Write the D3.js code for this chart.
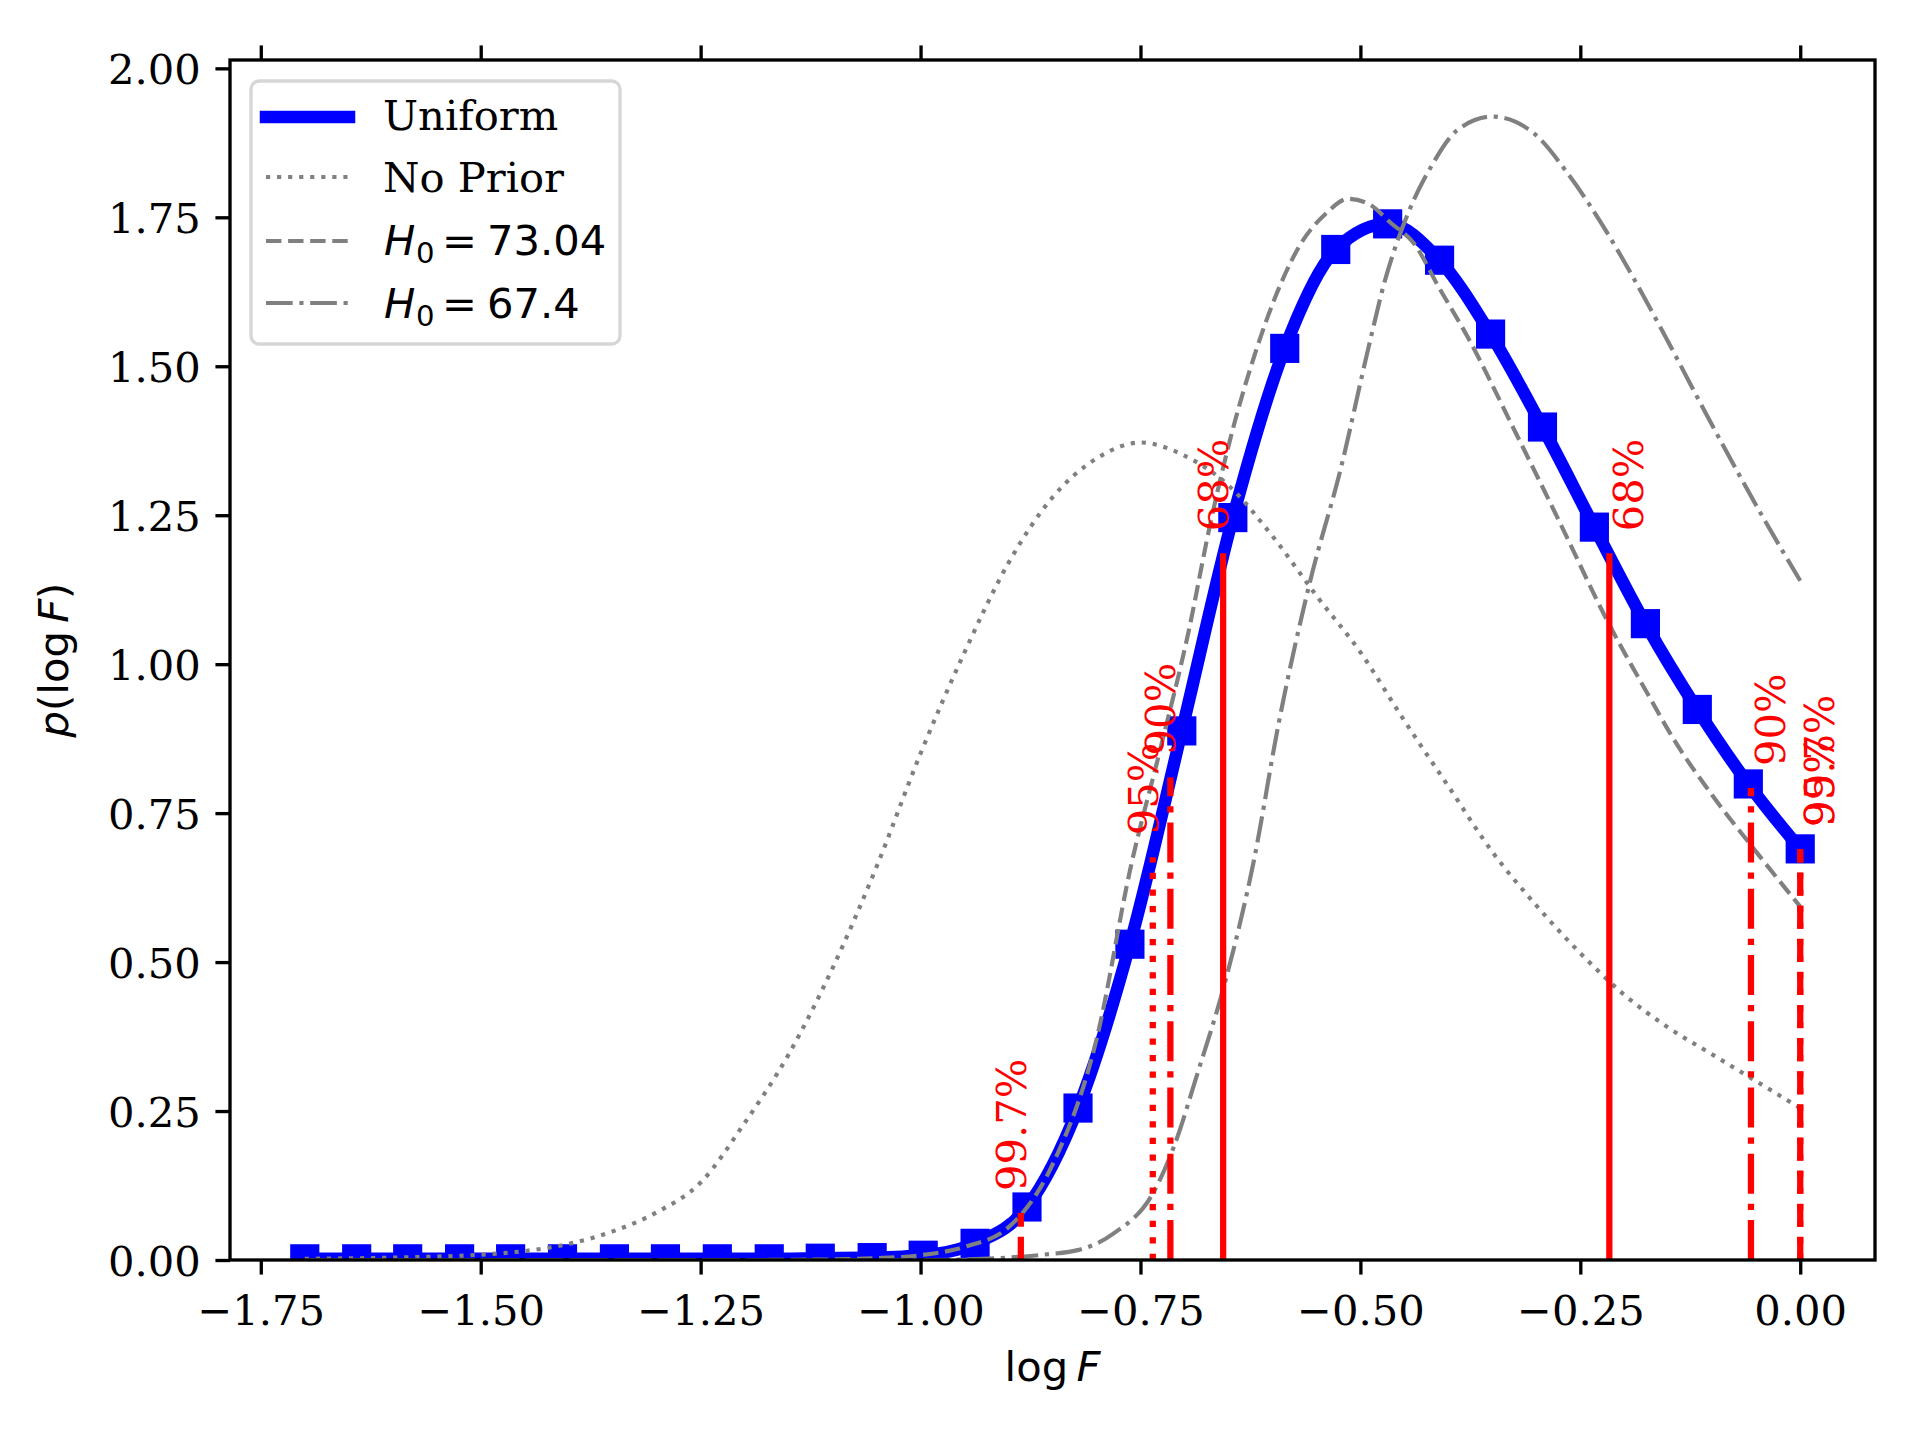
<!DOCTYPE html>
<html>
<head>
<meta charset="utf-8">
<script src="https://cdn.jsdelivr.net/npm/d3@7"></script>
<style>
	body { margin: 0; background: #fff; }
	svg { display: block; }
</style>
</head>
<body>
<div id="chart"></div>
<script>

// Uniform prior: values read at the square markers
const uniformX = [ -1.700, -1.641, -1.583, -1.524, -1.466, -1.407, -1.348, -1.290, -1.231, -1.172,
	-1.114, -1.055, -0.997, -0.938, -0.879, -0.821, -0.762, -0.703, -0.645, -0.586,
	-0.528, -0.469, -0.410, -0.352, -0.293, -0.234, -0.176, -0.117, -0.059, 0.000 ];
const uniformY = [ 0.002, 0.002, 0.002, 0.002, 0.002, 0.002, 0.002, 0.002, 0.002, 0.002,
	0.003, 0.004, 0.008, 0.028, 0.089, 0.255, 0.530, 0.888, 1.246, 1.530,
	1.696, 1.739, 1.678, 1.554, 1.398, 1.230, 1.068, 0.924, 0.799, 0.690 ];

const noPriorX = [ -1.70, -1.60, -1.50, -1.45, -1.40, -1.35, -1.30, -1.25, -1.20, -1.15,
	-1.10, -1.05, -1.00, -0.95, -0.90, -0.85, -0.80, -0.75, -0.70, -0.65,
	-0.60, -0.55, -0.50, -0.45, -0.40, -0.35, -0.30, -0.25, -0.20, -0.15,
	-0.10, -0.05, 0.00 ];
const noPriorY = [ 0.002, 0.004, 0.009, 0.015, 0.027, 0.048, 0.080, 0.130, 0.230, 0.345,
	0.490, 0.660, 0.850, 1.020, 1.170, 1.280, 1.345, 1.372, 1.350, 1.300,
	1.215, 1.115, 1.020, 0.905, 0.795, 0.685, 0.595, 0.515, 0.445, 0.390,
	0.345, 0.300, 0.255 ];

const h0HighX = [ -1.70, -1.20, -1.10, -1.05, -1.00, -0.95, -0.90, -0.85, -0.80, -0.761,
	-0.727, -0.696, -0.670, -0.644, -0.620, -0.590, -0.568, -0.540, -0.514, -0.490,
	-0.465, -0.439, -0.411, -0.378, -0.325, -0.275, -0.218, -0.173, -0.143, -0.100,
	-0.050, 0.00 ];
const h0HighY = [ 0.000, 0.000, 0.001, 0.003, 0.008, 0.022, 0.055, 0.160, 0.370, 0.660,
	0.860, 1.050, 1.240, 1.400, 1.520, 1.640, 1.705, 1.755, 1.781, 1.772,
	1.740, 1.706, 1.633, 1.549, 1.393, 1.243, 1.069, 0.949, 0.872, 0.780,
	0.685, 0.593 ];

const h0LowX = [ -1.70, -1.00, -0.95, -0.90, -0.86, -0.82, -0.78, -0.735, -0.712, -0.685,
	-0.655, -0.621, -0.593, -0.557, -0.522, -0.491, -0.473, -0.446, -0.420, -0.390,
	-0.350, -0.302, -0.264, -0.219, -0.188, -0.157, -0.099, -0.041, 0.00 ];
const h0LowY = [ 0.000, 0.000, 0.001, 0.004, 0.009, 0.017, 0.045, 0.114, 0.190, 0.314,
	0.460, 0.671, 0.900, 1.140, 1.330, 1.530, 1.639, 1.756, 1.834, 1.896,
	1.919, 1.890, 1.823, 1.723, 1.644, 1.560, 1.398, 1.243, 1.140 ];

// credible intervals
const intervalLabels = [ "68%", "90%", "95%", "99.7%" ];
const intervalStyles = [ "solid", "dashdot", "dotted", "dashed" ];
const intervalLower = [ -0.656, -0.716, -0.736, -0.886 ];
const intervalUpper = [ -0.217, -0.056, 0.000, 0.000 ];
const lowerHeight = [ 1.186, 0.810, 0.676, 0.079 ];
const upperHeight = [ 1.186, 0.792, 0.690, 0.690 ];

const xTicks = [ -1.75, -1.50, -1.25, -1.00, -0.75, -0.50, -0.25, 0.00 ];
const yTicks = [ 0.00, 0.25, 0.50, 0.75, 1.00, 1.25, 1.50, 1.75, 2.00 ];

const legendLabels = [ "Uniform", "No Prior", "73.04", "67.4" ];

const pt = 300 / 72;
const fontSize = 10 * pt;
const serif = "'DejaVu Serif', serif";
const sans = "'DejaVu Sans', sans-serif";
const gray = "#808080";

const plot = { left: 230, right: 1875, top: 60, bottom: 1260 };

function dashes(style, lw) {
	const p = { solid: null, dotted: [1, 1.65], dashed: [3.7, 1.6], dashdot: [6.4, 1.6, 1, 1.6] }[style];
	return p ? p.map((d) => (d * lw).toFixed(2)).join(" ") : null;
}

const svg = d3.select("#chart")
	.append("svg")
		.attr("width", 1920)
		.attr("height", 1440);

svg.append("rect").attr("width", 1920).attr("height", 1440).attr("fill", "#fff");

const x = d3.scaleLinear().domain([-1.785, 0.085]).range([plot.left, plot.right]);
const y = d3.scaleLinear().domain([0, 2.014]).range([plot.bottom, plot.top]);

svg.append("clipPath")
		.attr("id", "clip")
	.append("rect")
		.attr("x", plot.left)
		.attr("y", plot.top)
		.attr("width", plot.right - plot.left)
		.attr("height", plot.bottom - plot.top);

const area = svg.append("g").attr("clip-path", "url(#clip)");

const line = d3.line()
	.x((d) => x(d[0]))
	.y((d) => y(d[1]))
	.curve(d3.curveMonotoneX);

// uniform prior with square markers
const uniform = d3.zip(uniformX, uniformY);
const blueWidth = 3 * pt;

area.append("path")
	.datum(uniform)
	.attr("d", line)
	.attr("fill", "none")
	.attr("stroke", "#0000ff")
	.attr("stroke-width", blueWidth)
	.attr("stroke-linejoin", "round");

const markerSide = 7 * pt;
area.selectAll(".marker")
	.data(uniform).enter()
	.append("rect")
		.attr("class", "marker")
		.attr("x", (d) => x(d[0]) - markerSide / 2)
		.attr("y", (d) => y(d[1]) - markerSide / 2)
		.attr("width", markerSide)
		.attr("height", markerSide)
		.attr("fill", "#0000ff");

// comparison curves
const grayCurves = [
	{ data: d3.zip(noPriorX, noPriorY), style: "dotted" },
	{ data: d3.zip(h0HighX, h0HighY), style: "dashed" },
	{ data: d3.zip(h0LowX, h0LowY), style: "dashdot" }
];

area.selectAll(".gray")
	.data(grayCurves).enter()
	.append("path")
		.attr("class", "gray")
		.attr("d", (d) => line(d.data))
		.attr("fill", "none")
		.attr("stroke", gray)
		.attr("stroke-width", pt)
		.attr("stroke-dasharray", (d) => dashes(d.style, pt));

// interval bounds
const redWidth = 1.5 * pt;
const bounds = [];
intervalLabels.forEach((label, i) => {
	bounds.push({ label, style: intervalStyles[i], x: intervalLower[i], h: lowerHeight[i], side: "lower" });
	bounds.push({ label, style: intervalStyles[i], x: intervalUpper[i], h: upperHeight[i], side: "upper" });
});

area.selectAll(".bound")
	.data(bounds).enter()
	.append("line")
		.attr("class", "bound")
		.attr("x1", (d) => x(d.x))
		.attr("x2", (d) => x(d.x))
		.attr("y1", y(0))
		.attr("y2", (d) => y(d.h))
		.attr("stroke", "#ff0000")
		.attr("stroke-width", redWidth)
		.attr("stroke-dasharray", (d) => dashes(d.style, redWidth));

svg.append("g")
	.selectAll("text")
	.data(bounds).enter()
	.append("text")
		.attr("transform", (d) => `translate(${ x(d.x) + (d.side === "lower" ? 5 : 34) }, ${ y(d.h) - 22 })rotate(-90)`)
		.attr("font-family", serif)
		.attr("font-size", fontSize)
		.attr("fill", "#ff0000")
		.text((d) => d.label);

// spines and axes
svg.append("rect")
	.attr("x", plot.left)
	.attr("y", plot.top)
	.attr("width", plot.right - plot.left)
	.attr("height", plot.bottom - plot.top)
	.attr("fill", "none")
	.attr("stroke", "#000")
	.attr("stroke-width", 0.8 * pt);

const tickLen = 3.5 * pt;
const fmt = d3.format(".2f");

function styleAxis(g, dy) {
	g.select(".domain").remove();
	g.selectAll(".tick line").attr("stroke", "#000").attr("stroke-width", 0.8 * pt);
	g.selectAll(".tick text")
		.attr("font-family", serif)
		.attr("font-size", fontSize)
		.attr("fill", "#000")
		.attr("dy", dy);
}

svg.append("g")
	.attr("transform", `translate(0, ${plot.bottom})`)
	.call(d3.axisBottom(x).tickValues(xTicks).tickFormat(fmt).tickSize(tickLen).tickPadding(tickLen))
	.call((g) => styleAxis(g, "0.86em"));

svg.append("g")
	.attr("transform", `translate(0, ${plot.top})`)
	.call(d3.axisTop(x).tickValues(xTicks).tickFormat("").tickSize(tickLen))
	.call((g) => styleAxis(g, null));

svg.append("g")
	.attr("transform", `translate(${plot.left}, 0)`)
	.call(d3.axisLeft(y).tickValues(yTicks).tickFormat(fmt).tickSize(tickLen).tickPadding(tickLen))
	.call((g) => styleAxis(g, "0.37em"));

// axis labels (mathtext look)
const xLabel = svg.append("text")
	.attr("x", (plot.left + plot.right) / 2)
	.attr("y", 1381)
	.attr("text-anchor", "middle")
	.attr("font-family", sans)
	.attr("font-size", fontSize);
xLabel.append("tspan").text("log\u2009");
xLabel.append("tspan").attr("font-style", "italic").text("F");

const yLabel = svg.append("text")
	.attr("transform", `translate(68, ${(plot.top + plot.bottom) / 2})rotate(-90)`)
	.attr("text-anchor", "middle")
	.attr("font-family", sans)
	.attr("font-size", fontSize);
yLabel.append("tspan").attr("font-style", "italic").text("p");
yLabel.append("tspan").text("(log\u2009");
yLabel.append("tspan").attr("font-style", "italic").text("F");
yLabel.append("tspan").text(")");

// legend
const legend = svg.append("g").attr("class", "legend");

legend.append("rect")
	.attr("x", 251)
	.attr("y", 81)
	.attr("width", 369)
	.attr("height", 263)
	.attr("rx", 0.2 * fontSize)
	.attr("fill", "#fff")
	.attr("fill-opacity", 0.8)
	.attr("stroke", "#cccccc")
	.attr("stroke-opacity", 0.8)
	.attr("stroke-width", 0.8 * pt);

const legendRows = [
	{ label: legendLabels[0], style: "solid", color: "#0000ff", lw: blueWidth, lineY: 117, textY: 130 },
	{ label: legendLabels[1], style: "dotted", color: gray, lw: pt, lineY: 177, textY: 192 },
	{ label: legendLabels[2], style: "dashed", color: gray, lw: pt, lineY: 241, textY: 255, math: true },
	{ label: legendLabels[3], style: "dashdot", color: gray, lw: pt, lineY: 303, textY: 318, math: true }
];

const rows = legend.selectAll(".row")
	.data(legendRows).enter()
	.append("g")
		.attr("class", "row");

rows.append("line")
	.attr("x1", 266)
	.attr("x2", 349)
	.attr("y1", (d) => d.lineY)
	.attr("y2", (d) => d.lineY)
	.attr("stroke", (d) => d.color)
	.attr("stroke-width", (d) => d.lw)
	.attr("stroke-linecap", (d) => (d.style === "solid" ? "square" : "butt"))
	.attr("stroke-dasharray", (d) => dashes(d.style, d.lw));

rows.filter((d) => !d.math)
	.append("text")
		.attr("x", 383)
		.attr("y", (d) => d.textY)
		.attr("font-family", serif)
		.attr("font-size", fontSize)
		.text((d) => d.label);

const mathRows = rows.filter((d) => d.math);

mathRows.append("text")
	.attr("x", 384)
	.attr("y", (d) => d.textY)
	.attr("font-family", sans)
	.attr("font-size", fontSize)
	.attr("font-style", "italic")
	.text("H");

mathRows.append("text")
	.attr("x", 416)
	.attr("y", (d) => d.textY + 8)
	.attr("font-family", sans)
	.attr("font-size", fontSize * 0.7)
	.text("0");

mathRows.append("text")
	.attr("x", 442)
	.attr("y", (d) => d.textY)
	.attr("font-family", sans)
	.attr("font-size", fontSize)
	.text("=");

mathRows.append("text")
	.attr("x", 487)
	.attr("y", (d) => d.textY)
	.attr("font-family", sans)
	.attr("font-size", fontSize)
	.text((d) => d.label);

</script>
</body>
</html>
